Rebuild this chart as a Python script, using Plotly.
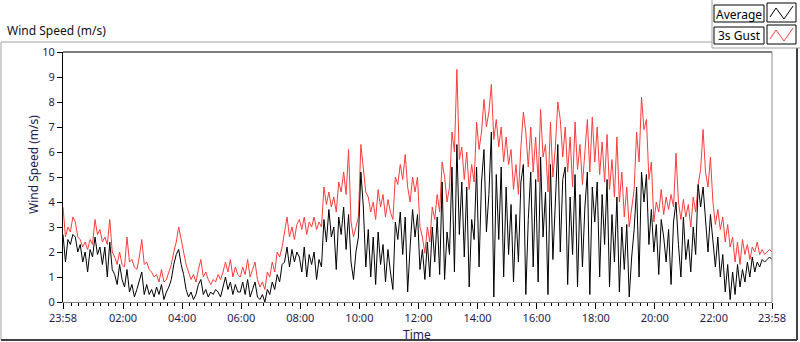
import plotly.graph_objects as go

# ---- data (5-minute samples from 23:58 to 23:58, minutes since start) ----
step_minutes = 5
gust_values = [
    3.8, 2.6, 3.0, 2.8, 3.4, 3.2, 2.6, 2.5, 2.2, 2.4, 2.1, 2.5, 2.3, 3.3, 2.7, 2.9, 2.4, 2.6, 2.3, 3.3, 2.0, 1.8, 1.5, 2.0,
    1.5, 1.4, 2.6, 1.6, 1.7, 1.4, 1.3, 1.8, 2.5, 1.5, 1.6, 1.3, 1.2, 1.0, 1.1, 0.8, 1.3, 0.8, 0.9, 1.2, 1.5, 2.0, 2.4, 3.0,
    2.5, 2.0, 1.5, 1.2, 0.9, 1.1, 0.8, 1.3, 1.7, 1.0, 1.2, 0.9, 0.7, 0.9, 0.8, 1.1, 0.9, 1.2, 1.6, 1.2, 1.7, 1.0, 1.4, 1.1,
    1.0, 1.4, 1.1, 1.7, 1.0, 1.3, 1.6, 0.9, 0.6, 0.8, 0.5, 1.2, 1.0, 1.6, 1.2, 2.0, 1.8, 2.2, 2.8, 3.4, 2.6, 3.0, 2.5, 3.1,
    3.3, 2.9, 3.4, 2.7, 3.2, 3.0, 3.4, 2.9, 3.2, 3.0, 4.6, 3.9, 4.4, 3.8, 4.2, 3.6, 4.8, 4.4, 5.2, 4.3, 6.1, 3.2, 2.6, 3.0,
    3.4, 6.3, 5.2, 4.4, 4.2, 3.6, 4.0, 3.3, 4.5, 3.8, 4.3, 3.4, 4.1, 3.6, 3.3, 5.0, 4.7, 5.5, 4.9, 5.9, 4.6, 4.0, 5.0, 4.4,
    5.0, 3.0, 2.6, 1.95, 3.0, 2.4, 3.8, 3.3, 4.3, 3.6, 5.6, 5.0, 4.0, 4.6, 6.8, 6.0, 9.3, 5.7, 6.2, 4.9, 6.0, 4.5, 5.5, 4.8,
    7.2, 6.1, 6.8, 8.1, 7.0, 7.6, 8.7, 6.5, 7.3, 6.2, 7.0, 5.6, 6.6, 5.5, 6.1, 4.5, 5.5, 4.3, 6.2, 7.6, 6.8, 5.4, 7.0, 5.2,
    6.6, 4.8, 7.7, 5.8, 6.3, 4.4, 7.2, 5.0, 6.2, 8.0, 7.3, 5.8, 7.0, 5.2, 6.6, 4.6, 7.2, 5.3, 6.3, 4.7, 6.0, 7.3, 5.2, 7.4,
    5.6, 7.0, 5.1, 6.4, 4.8, 6.7, 4.5, 5.7, 4.2, 6.6, 4.0, 5.2, 3.4, 4.6, 3.0, 3.8, 4.5, 6.8, 5.6, 8.2, 6.9, 7.3, 4.9, 5.6,
    3.2, 4.0, 3.6, 4.5, 3.5, 4.2, 3.7, 4.3, 3.8, 5.95, 4.0, 3.3, 4.1, 3.4, 3.9, 3.0, 4.2, 3.6, 4.7, 5.3, 6.9, 5.2, 4.6, 5.8,
    4.0, 3.1, 3.7, 2.9, 3.4, 2.4, 3.1, 2.2, 2.6, 1.6, 2.4, 1.5, 2.5, 1.9, 2.3, 1.7, 2.2, 2.0, 2.4, 1.9, 2.1, 1.9, 2.0, 2.1, 2.0,
]
avg_values = [
    2.7, 1.6, 2.5, 2.3, 2.7, 2.6, 2.0, 2.3, 1.6, 2.0, 1.2, 2.1, 1.8, 2.6, 1.9, 2.2, 1.5, 2.2, 1.0, 2.4, 1.3, 1.1, 0.7, 1.5,
    0.9, 0.6, 1.3, 0.4, 0.7, 0.2, 0.5, 0.9, 1.2, 0.3, 0.7, 0.3, 0.5, 0.2, 0.6, 0.3, 0.7, 0.1, 0.4, 0.6, 0.9, 1.5, 1.9, 2.1,
    1.5, 1.1, 0.5, 0.2, 0.4, 0.1, 0.3, 0.7, 0.9, 0.3, 0.5, 0.2, 0.4, 0.3, 0.5, 0.4, 0.2, 0.6, 1.0, 0.5, 0.8, 0.3, 0.7, 0.4,
    0.4, 0.8, 0.3, 0.9, 0.2, 0.5, 0.8, 0.2, 0.1, 0.3, 0.0, 0.5, 0.3, 0.8, 0.5, 1.1, 0.8, 1.5, 1.6, 2.2, 1.4, 2.1, 1.6, 2.0,
    1.8, 1.2, 2.2, 1.0, 1.9, 1.5, 2.0, 0.9, 1.7, 1.4, 3.3, 2.4, 3.7, 2.6, 3.0, 1.3, 3.4, 2.7, 3.8, 2.1, 3.5, 1.6, 0.9, 2.0,
    2.6, 5.2, 3.8, 1.4, 2.9, 1.0, 2.6, 0.7, 2.8, 1.5, 2.3, 0.8, 2.1, 1.2, 0.5, 3.2, 2.5, 3.6, 1.9, 3.4, 0.4, 2.2, 3.7, 2.6,
    3.5, 1.3, 2.1, 0.9, 2.4, 1.0, 3.0, 1.6, 3.4, 1.1, 4.8, 0.9, 2.8, 1.9, 5.4, 1.2, 6.3, 2.7, 4.8, 1.8, 4.6, 0.6, 3.3, 2.5,
    5.4, 1.4, 4.8, 6.1, 2.8, 4.3, 6.8, 0.2, 5.1, 2.5, 5.4, 1.0, 4.6, 1.9, 3.9, 0.8, 3.5, 1.6, 4.8, 5.5, 0.3, 3.3, 5.2, 1.4,
    4.9, 0.8, 5.8, 2.6, 4.4, 0.3, 5.5, 1.7, 4.0, 6.3, 2.0, 4.9, 5.4, 0.7, 4.2, 1.9, 5.1, 0.6, 4.3, 1.4, 3.8, 5.2, 0.3, 4.6,
    3.2, 4.8, 1.0, 4.3, 2.3, 4.9, 0.6, 3.5, 1.6, 4.2, 0.4, 3.0, 1.3, 3.1, 0.2, 1.8, 2.9, 4.6, 1.0, 5.2, 4.0, 5.1, 2.3, 3.7,
    2.0, 3.1, 1.1, 3.3, 2.6, 1.6, 2.9, 0.7, 3.2, 4.0, 2.3, 1.0, 3.4, 1.7, 2.5, 1.2, 3.0, 1.9, 4.7, 3.8, 4.6, 3.4, 2.0, 3.5,
    2.4, 1.4, 2.6, 1.0, 1.9, 0.4, 1.5, 0.1, 1.2, 0.3, 1.5, 0.6, 1.3, 0.8, 1.6, 1.0, 1.8, 1.2, 1.6, 1.4, 1.7, 1.6, 1.7, 1.8, 1.7,
]
time_minutes = [i * step_minutes for i in range(len(gust_values))]

tick_minutes = [0, 122, 242, 362, 482, 602, 722, 842, 962, 1082, 1202, 1322, 1440]
tick_labels = ["23:58", "02:00", "04:00", "06:00", "08:00", "10:00", "12:00",
               "14:00", "16:00", "18:00", "20:00", "22:00", "23:58"]
y_ticks = list(range(0, 11))

# ---- geometry helpers (pixel -> paper) ----
W, H = 800, 342
L, R, T, B = 63, 772, 52, 302


def px(x):
    return (x - L) / (R - L)


def py(y):
    return (B - y) / (B - T)


FONT = "Noto Sans"
NAVY = "#1c1c4c"
RED = "#ff3c3c"

fig = go.Figure()
fig.add_trace(go.Scatter(x=time_minutes, y=gust_values, mode="lines", name="3s Gust",
                         line=dict(color=RED, width=1), showlegend=False, hoverinfo="skip"))
fig.add_trace(go.Scatter(x=time_minutes, y=avg_values, mode="lines", name="Average",
                         line=dict(color="black", width=1), showlegend=False, hoverinfo="skip"))

shapes = []


def line(x0, y0, x1, y1, color, width=1):
    shapes.append(dict(type="line", xref="paper", yref="paper",
                       x0=px(x0), y0=py(y0), x1=px(x1), y1=py(y1),
                       line=dict(color=color, width=width)))


def rect(x0, y0, x1, y1, color="black"):
    shapes.append(dict(type="rect", xref="paper", yref="paper",
                       x0=px(x0), y0=py(y0), x1=px(x1), y1=py(y1),
                       line=dict(color=color, width=1), fillcolor="white", layer="above"))


# outer panel
line(1, 42, 712, 42, "#a0a0a0")
line(1, 42, 1, 340, "#a0a0a0")
line(1, 340, 797, 340, "#404040", 2)
line(797, 48, 797, 340, "#404040", 2)
# legend panel
line(712, 0, 712, 48, "#a0a0a0")
line(712, 48, 800, 48, "#a0a0a0")
# plot frame top & right
line(L, T, R, T, "black")
line(R, T, R, B, "#8c8c8c")

# legend boxes
rect(714, 5, 764, 22)
rect(767, 3, 796, 22)
rect(714, 27, 764, 44)
rect(767, 25, 796, 44)


def zigzag(yoff, color):
    pts = [(770, 17), (776, 8), (784, 19), (793, 6)]
    d = "M " + " L ".join(f"{px(x)},{py(y + yoff)}" for x, y in pts)
    shapes.append(dict(type="path", xref="paper", yref="paper", path=d,
                       line=dict(color=color, width=1), layer="above"))


zigzag(0, "black")
zigzag(22, RED)

annotations = [
    dict(text="Wind Speed (m/s)", x=px(5), y=py(31), xref="paper", yref="paper",
         xanchor="left", yanchor="middle", showarrow=False,
         font=dict(family=FONT, size=12, color="#111111")),
    dict(text="Wind Speed (m/s)", x=px(33), y=py(165), xref="paper", yref="paper",
         xanchor="center", yanchor="middle", showarrow=False, textangle=-90,
         font=dict(family=FONT, size=12, color=NAVY)),
    dict(text="Time", x=px(417), y=py(334), xref="paper", yref="paper",
         xanchor="center", yanchor="middle", showarrow=False,
         font=dict(family=FONT, size=12, color=NAVY)),
    dict(text="Average", x=px(739), y=py(14), xref="paper", yref="paper",
         xanchor="center", yanchor="middle", showarrow=False,
         font=dict(family=FONT, size=12, color="black")),
    dict(text="3s Gust", x=px(739), y=py(36), xref="paper", yref="paper",
         xanchor="center", yanchor="middle", showarrow=False,
         font=dict(family=FONT, size=12, color="black")),
]

fig.update_layout(
    width=W, height=H,
    margin=dict(l=L, r=W - R, t=T, b=H - B, pad=0),
    paper_bgcolor="white", plot_bgcolor="white",
    showlegend=False, hovermode=False,
    shapes=shapes, annotations=annotations,
    font=dict(family=FONT, size=11, color=NAVY),
    xaxis=dict(range=[0, 1440], tickmode="array", tickvals=tick_minutes, ticktext=tick_labels,
               ticks="outside", ticklen=6, tickcolor="black", tickwidth=1,
               showgrid=False, zeroline=False, showline=True, linecolor="#808080", linewidth=1,
               tickfont=dict(family=FONT, size=11, color=NAVY),
               minor=dict(ticks="outside", ticklen=3, tickcolor="black", tick0=2, dtick=15, showgrid=False)),
    yaxis=dict(range=[0, 10], tickmode="array", tickvals=y_ticks,
               ticks="outside", ticklen=5, tickcolor="black", tickwidth=1,
               showgrid=False, zeroline=False, showline=True, linecolor="black", linewidth=1,
               tickfont=dict(family=FONT, size=11, color=NAVY)),
)

fig.write_html("out.html", config={"displayModeBar": False},
               post_script="document.body.style.margin='0px';document.body.style.overflow='hidden';")
